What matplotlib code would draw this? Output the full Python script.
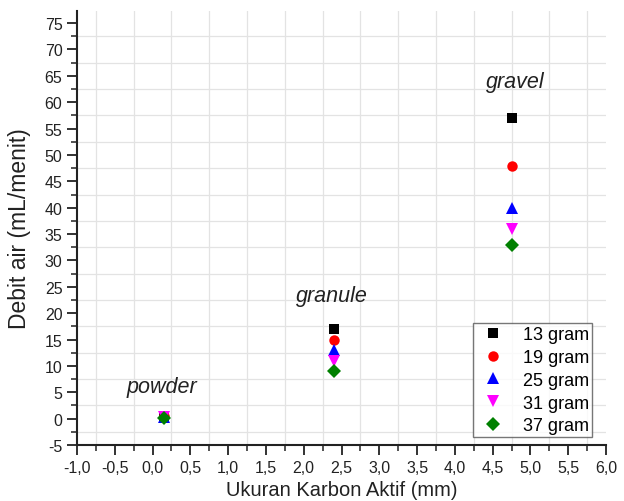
import matplotlib
matplotlib.use("Agg")
import matplotlib.pyplot as plt
import numpy as np
from matplotlib.ticker import MultipleLocator, FuncFormatter

plt.rcParams['font.family'] = ['Liberation Sans', 'DejaVu Sans']

sizes_mm = [0.15, 2.4, 4.75]
series_labels = ["13 gram", "19 gram", "25 gram", "31 gram", "37 gram"]
debit_13 = [0.5, 17, 57]
debit_19 = [0.5, 15, 48]
debit_25 = [0.4, 13, 40]
debit_31 = [0.3, 11, 36]
debit_37 = [0.2, 9, 33]
categories = ["powder", "granule", "gravel"]
cat_label_pos = [(0.12, 6.0), (2.37, 23.3), (4.8, 64.0)]

series = [debit_13, debit_19, debit_25, debit_31, debit_37]
markers = ["s", "o", "^", "v", "D"]
colors = ["#000000", "#ff0000", "#0000ff", "#ff00ff", "#008000"]
msizes = [7, 7.5, 8, 8, 7]

fig = plt.figure(figsize=(6.24, 5.02), dpi=100)
ax = fig.add_axes([77/624, 1-446/502, 529/624, 434/502])

for vals, m, c, lab, ms in zip(series, markers, colors, series_labels, msizes):
    ax.plot(sizes_mm, vals, linestyle="none", marker=m, color=c, markersize=ms,
            markeredgewidth=0, label=lab, zorder=3)

for name, (x, y) in zip(categories, cat_label_pos):
    ax.text(x, y, name, fontsize=15.5, style="italic", ha="center", va="center", color="#222222")

ax.set_xlim(-1.0, 6.0)
ax.set_ylim(-5, 77.3)
ax.xaxis.set_major_locator(MultipleLocator(0.5))
ax.xaxis.set_minor_locator(MultipleLocator(0.25))
ax.yaxis.set_major_locator(MultipleLocator(5))
ax.yaxis.set_minor_locator(MultipleLocator(2.5))
ax.xaxis.set_major_formatter(FuncFormatter(lambda v, p: f"{v:.1f}".replace(".", ",").replace("-0,0", "0,0")))
ax.yaxis.set_major_formatter(FuncFormatter(lambda v, p: f"{int(round(v))}"))

# grid at odd minor positions
for gx in np.arange(-0.75, 6.0, 0.5):
    ax.axvline(gx, color="#e3e3e3", lw=0.9, zorder=0)
for gy in np.arange(-2.5, 77.3, 5):
    ax.axhline(gy, color="#e3e3e3", lw=0.9, zorder=0)

for s in ["top", "right"]:
    ax.spines[s].set_visible(False)
for s in ["left", "bottom"]:
    ax.spines[s].set_linewidth(1.5)
    ax.spines[s].set_color("#222222")

ax.tick_params(which="major", direction="out", length=7, width=1.3, labelsize=11.5,
               colors="#222222", pad=3.5)
ax.tick_params(which="minor", direction="out", length=4, width=1.1, colors="#222222")

ax.set_xlabel("Ukuran Karbon Aktif (mm)", fontsize=14.5, color="#222222", labelpad=4)
ax.set_ylabel("Debit air (mL/menit)", fontsize=16.5, color="#222222", labelpad=10)

leg = ax.legend(loc="lower right", bbox_to_anchor=(592/624, 1-438/502), bbox_transform=fig.transFigure,
                fontsize=13, frameon=True, fancybox=False, borderpad=0.15, labelspacing=0.32,
                handletextpad=0.7, handlelength=1.9, borderaxespad=0)
leg.get_frame().set_edgecolor("#555555")
leg.get_frame().set_linewidth(1.0)

fig.savefig("out.png", dpi=100)
